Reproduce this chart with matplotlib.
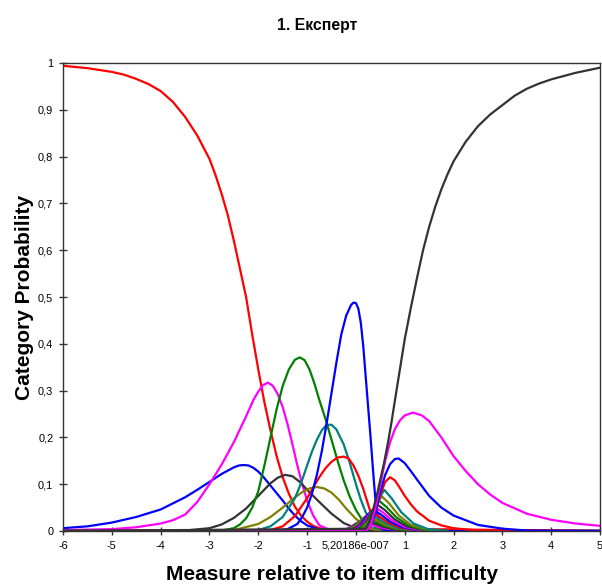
import matplotlib
matplotlib.use('Agg')
import matplotlib.pyplot as plt

plt.rcParams['font.family'] = ['Liberation Sans', 'DejaVu Sans']

# --- Dados (curvas de probabilidade por categoria) ---
x_ticks = [-6, -5, -4, -3, -2, -1, 0, 1, 2, 3, 4, 5]
x_tick_labels = ['-6', '-5', '-4', '-3', '-2', '-1', '5,20186e-007', '1', '2', '3', '4', '5']
y_ticks = [0, 0.1, 0.2, 0.3, 0.4, 0.5, 0.6, 0.7, 0.8, 0.9, 1]
y_tick_labels = ['0', '0,1', '0,2', '0,3', '0,4', '0,5', '0,6', '0,7', '0,8', '0,9', '1']

cat00_x = [-6, -5.5, -5, -4.75, -4.5, -4.25, -4, -3.75, -3.5, -3.25, -3, -2.875, -2.75, -2.625, -2.5,
           -2.375, -2.25, -2.125, -2, -1.875, -1.75, -1.625, -1.5, -1.375, -1.25, -1.125, -1, -0.875,
           -0.75, -0.5, 0, 5]
cat00_y = [0.994, 0.989, 0.981, 0.975, 0.966, 0.955, 0.94, 0.917, 0.885, 0.845, 0.795, 0.76, 0.72, 0.675,
           0.62, 0.56, 0.5, 0.42, 0.345, 0.275, 0.215, 0.16, 0.115, 0.08, 0.052, 0.033, 0.02, 0.011,
           0.006, 0.001, 0, 0]

cat01_x = [-6, -5.5, -5, -4.5, -4, -3.5, -3.25, -3, -2.75, -2.5, -2.4, -2.3, -2.2, -2.1, -2, -1.9,
           -1.75, -1.625, -1.5, -1.375, -1.25, -1.125, -1, -0.75, -0.5, 5]
cat01_y = [0.006, 0.01, 0.018, 0.03, 0.046, 0.072, 0.088, 0.105, 0.122, 0.136, 0.14, 0.141, 0.14, 0.135,
           0.127, 0.116, 0.097, 0.081, 0.065, 0.048, 0.033, 0.021, 0.012, 0.003, 0, 0]

cat02_x = [-6, -5, -4.5, -4, -3.75, -3.5, -3.25, -3, -2.75, -2.5, -2.25, -2.1, -2, -1.9, -1.8, -1.7,
           -1.6, -1.5, -1.4, -1.3, -1.2, -1.1, -1, -0.875, -0.75, -0.5, 5]
cat02_y = [0.002, 0.004, 0.008, 0.016, 0.023, 0.035, 0.062, 0.1, 0.142, 0.19, 0.245, 0.28, 0.298, 0.312,
           0.317, 0.31, 0.292, 0.265, 0.228, 0.185, 0.14, 0.1, 0.065, 0.033, 0.012, 0.001, 0]

cat03_x = [-6, -3.5, -3, -2.75, -2.5, -2.25, -2, -1.75, -1.6, -1.45, -1.3, -1.15, -1, -0.75, -0.5,
           -0.25, 0, 0.25, 5]
cat03_y = [0, 0.001, 0.006, 0.014, 0.028, 0.048, 0.075, 0.102, 0.114, 0.12, 0.117, 0.105, 0.088, 0.062,
           0.037, 0.017, 0.006, 0.001, 0]

cat04_x = [-6, -3, -2.75, -2.5, -2.375, -2.25, -2.125, -2, -1.875, -1.75, -1.625, -1.5, -1.375, -1.25,
           -1.15, -1.05, -0.95, -0.85, -0.75, -0.625, -0.5, -0.375, -0.25, -0.125, 0, 0.125, 0.25, 0.5, 5]
cat04_y = [0, 0, 0.001, 0.006, 0.014, 0.027, 0.05, 0.085, 0.14, 0.2, 0.26, 0.31, 0.345, 0.366,
           0.371, 0.365, 0.345, 0.315, 0.28, 0.24, 0.195, 0.15, 0.108, 0.073, 0.045, 0.024, 0.01, 0, 0]

cat05_x = [-6, -2.5, -2, -1.75, -1.5, -1.25, -1.1, -0.95, -0.8, -0.65, -0.5, -0.35, -0.2, 0, 0.2, 0.4, 5]
cat05_y = [0, 0.002, 0.015, 0.03, 0.05, 0.072, 0.083, 0.091, 0.094, 0.091, 0.082, 0.067, 0.048, 0.026,
           0.01, 0.002, 0]

cat06_x = [-6, -2, -1.75, -1.5, -1.25, -1.125, -1, -0.9, -0.8, -0.7, -0.6, -0.5, -0.4, -0.25, -0.125,
           0, 0.1, 0.2, 0.4, 0.6, 5]
cat06_y = [0, 0.002, 0.01, 0.03, 0.07, 0.102, 0.14, 0.17, 0.195, 0.215, 0.227, 0.227, 0.217, 0.185,
           0.145, 0.1, 0.067, 0.04, 0.007, 0, 0]

cat07_x = [-6, -1.75, -1.5, -1.25, -1, -0.875, -0.75, -0.625, -0.5, -0.375, -0.25, -0.15, -0.05, 0.05,
           0.15, 0.3, 0.5, 5]
cat07_y = [0, 0.002, 0.01, 0.032, 0.07, 0.093, 0.115, 0.134, 0.148, 0.157, 0.159, 0.155, 0.14, 0.118,
           0.09, 0.04, 0.005, 0]

cat08_x = [-6, -1.6, -1.4, -1.2, -1.1, -1, -0.9, -0.8, -0.7, -0.6, -0.5, -0.4, -0.3, -0.2, -0.1, -0.05,
           0, 0.05, 0.1, 0.15, 0.2, 0.25, 0.3, 0.35, 0.4, 0.45, 0.5, 0.6, 5]
cat08_y = [0, 0, 0.004, 0.015, 0.03, 0.05, 0.08, 0.12, 0.17, 0.23, 0.295, 0.36, 0.42, 0.46, 0.483, 0.488,
           0.487, 0.475, 0.445, 0.395, 0.33, 0.265, 0.2, 0.13, 0.065, 0.03, 0.01, 0, 0]

cat09_x = [-0.35, -0.15, 0, 0.1, 0.25, 0.45, 0.7, 1.0, 1.4]
cat09_y = [0, 0.006, 0.016, 0.02, 0.016, 0.009, 0.004, 0.001, 0]

cat10_x = [-0.3, -0.1, 0.05, 0.15, 0.3, 0.5, 0.75, 1.05, 1.45]
cat10_y = [0, 0.007, 0.019, 0.024, 0.019, 0.011, 0.004, 0.001, 0]

cat11_x = [-0.26, -0.06, 0.09, 0.19, 0.34, 0.54, 0.79, 1.09, 1.49]
cat11_y = [0, 0.008, 0.022, 0.028, 0.022, 0.013, 0.005, 0.001, 0]

cat12_x = [-0.22, -0.02, 0.13, 0.23, 0.38, 0.58, 0.83, 1.13, 1.53]
cat12_y = [0, 0.01, 0.026, 0.032, 0.026, 0.014, 0.006, 0.002, 0]

cat13_x = [-0.18, 0.02, 0.17, 0.27, 0.42, 0.62, 0.87, 1.17, 1.57]
cat13_y = [0, 0.011, 0.029, 0.036, 0.029, 0.016, 0.006, 0.002, 0]

cat14_x = [-0.14, 0.06, 0.21, 0.31, 0.46, 0.66, 0.91, 1.21, 1.61]
cat14_y = [0, 0.012, 0.032, 0.04, 0.032, 0.018, 0.007, 0.002, 0]

cat15_x = [-0.1, 0.1, 0.25, 0.35, 0.5, 0.7, 0.95, 1.25, 1.65]
cat15_y = [0, 0.013, 0.036, 0.045, 0.036, 0.02, 0.008, 0.002, 0]

cat16_x = [-0.05, 0.15, 0.3, 0.4, 0.55, 0.75, 1.0, 1.3, 1.7]
cat16_y = [0, 0.015, 0.04, 0.05, 0.04, 0.022, 0.009, 0.002, 0]

cat17_x = [-0.01, 0.19, 0.34, 0.44, 0.59, 0.79, 1.04, 1.34, 1.74]
cat17_y = [0, 0.017, 0.045, 0.056, 0.045, 0.025, 0.01, 0.003, 0]

cat18_x = [0.03, 0.23, 0.38, 0.48, 0.63, 0.83, 1.08, 1.38, 1.78]
cat18_y = [0, 0.019, 0.051, 0.064, 0.051, 0.029, 0.012, 0.003, 0]

cat19_x = [0.08, 0.28, 0.43, 0.53, 0.68, 0.88, 1.13, 1.43, 1.83]
cat19_y = [0, 0.022, 0.059, 0.074, 0.059, 0.033, 0.013, 0.004, 0]

cat20_x = [0.13, 0.33, 0.48, 0.58, 0.73, 0.93, 1.18, 1.48, 1.88]
cat20_y = [0, 0.026, 0.07, 0.088, 0.07, 0.04, 0.016, 0.004, 0]

cat21_x = [-6, 0.2, 0.3, 0.4, 0.5, 0.6, 0.7, 0.8, 0.9, 1, 1.125, 1.25, 1.5, 1.75, 2, 2.5, 5]
cat21_y = [0, 0, 0.01, 0.04, 0.078, 0.105, 0.115, 0.108, 0.092, 0.075, 0.057, 0.042, 0.022, 0.012,
           0.006, 0.001, 0]

cat22_x = [-6, 0.2, 0.3, 0.4, 0.5, 0.6, 0.7, 0.8, 0.875, 1, 1.125, 1.25, 1.5, 1.75, 2, 2.5, 3, 3.5, 5]
cat22_y = [0, 0, 0.01, 0.04, 0.085, 0.12, 0.143, 0.154, 0.155, 0.145, 0.128, 0.11, 0.075, 0.05, 0.033,
           0.013, 0.005, 0.001, 0]

cat23_x = [-6, 0.2, 0.3, 0.4, 0.5, 0.6, 0.7, 0.8, 0.9, 1.0, 1.17, 1.35, 1.5, 1.75, 2, 2.25, 2.5, 2.75,
           3, 3.5, 4, 4.5, 5]
cat23_y = [0, 0, 0.01, 0.05, 0.1, 0.15, 0.19, 0.218, 0.236, 0.247, 0.253, 0.247, 0.235, 0.2, 0.16, 0.128,
           0.1, 0.078, 0.06, 0.037, 0.024, 0.016, 0.011]

cat24_x = [-6, 0.2, 0.275, 0.35, 0.425, 0.5, 0.575, 0.65, 0.725, 0.8, 0.9, 1, 1.125, 1.25, 1.375, 1.5,
           1.625, 1.75, 1.875, 2, 2.25, 2.5, 2.75, 3, 3.25, 3.5, 3.75, 4, 4.5, 5]
cat24_y = [0, 0.005, 0.02, 0.045, 0.075, 0.11, 0.145, 0.185, 0.23, 0.28, 0.345, 0.41, 0.477, 0.54, 0.6,
           0.65, 0.693, 0.73, 0.762, 0.79, 0.832, 0.865, 0.89, 0.91, 0.93, 0.945, 0.956, 0.965, 0.979, 0.99]

curvas = [
    (cat00_x, cat00_y), (cat01_x, cat01_y), (cat02_x, cat02_y), (cat03_x, cat03_y),
    (cat04_x, cat04_y), (cat05_x, cat05_y), (cat06_x, cat06_y), (cat07_x, cat07_y),
    (cat08_x, cat08_y), (cat09_x, cat09_y), (cat10_x, cat10_y), (cat11_x, cat11_y),
    (cat12_x, cat12_y), (cat13_x, cat13_y), (cat14_x, cat14_y), (cat15_x, cat15_y),
    (cat16_x, cat16_y), (cat17_x, cat17_y), (cat18_x, cat18_y), (cat19_x, cat19_y),
    (cat20_x, cat20_y), (cat21_x, cat21_y), (cat22_x, cat22_y), (cat23_x, cat23_y),
    (cat24_x, cat24_y),
]

# ciclo de cores: vermelho, azul, magenta, preto, verde, oliva, azul-petróleo
cores = ['#ff0000', '#0000ff', '#ff00ff', '#333333', '#008000', '#808000', '#008080']

fig = plt.figure(figsize=(6.02, 5.85), dpi=100)
ax = fig.add_axes([0.1047, 0.0923, 0.892, 0.80])

for i, (xs, ys) in enumerate(curvas):
    ax.plot(xs, ys, color=cores[i % 7], linewidth=1.6, solid_joinstyle='round')

ax.set_xlim(-6, 5)
ax.set_ylim(0, 1)
ax.set_xticks(x_ticks)
ax.set_xticklabels(x_tick_labels, fontsize=7.9)
ax.set_yticks(y_ticks)
ax.set_yticklabels(y_tick_labels, fontsize=7.9)
ax.tick_params(direction='inout', length=6, width=1, color='#333333', pad=4)
for s in ax.spines.values():
    s.set_color('#333333')
    s.set_linewidth(1)

fig.text(0.527, 0.9556, '1. Експерт', ha='center', va='center', fontsize=11.4, fontweight='bold')
ax.set_xlabel('Measure relative to item difficulty', fontsize=15, fontweight='bold')
ax.set_ylabel('Category Probability', fontsize=15, fontweight='bold')
ax.xaxis.set_label_coords(0.5, -0.094)
ax.yaxis.set_label_coords(-0.071, 0.5)
ax.xaxis.label.set_va('center')
ax.yaxis.label.set_va('center')

fig.savefig('out.png', dpi=100)
